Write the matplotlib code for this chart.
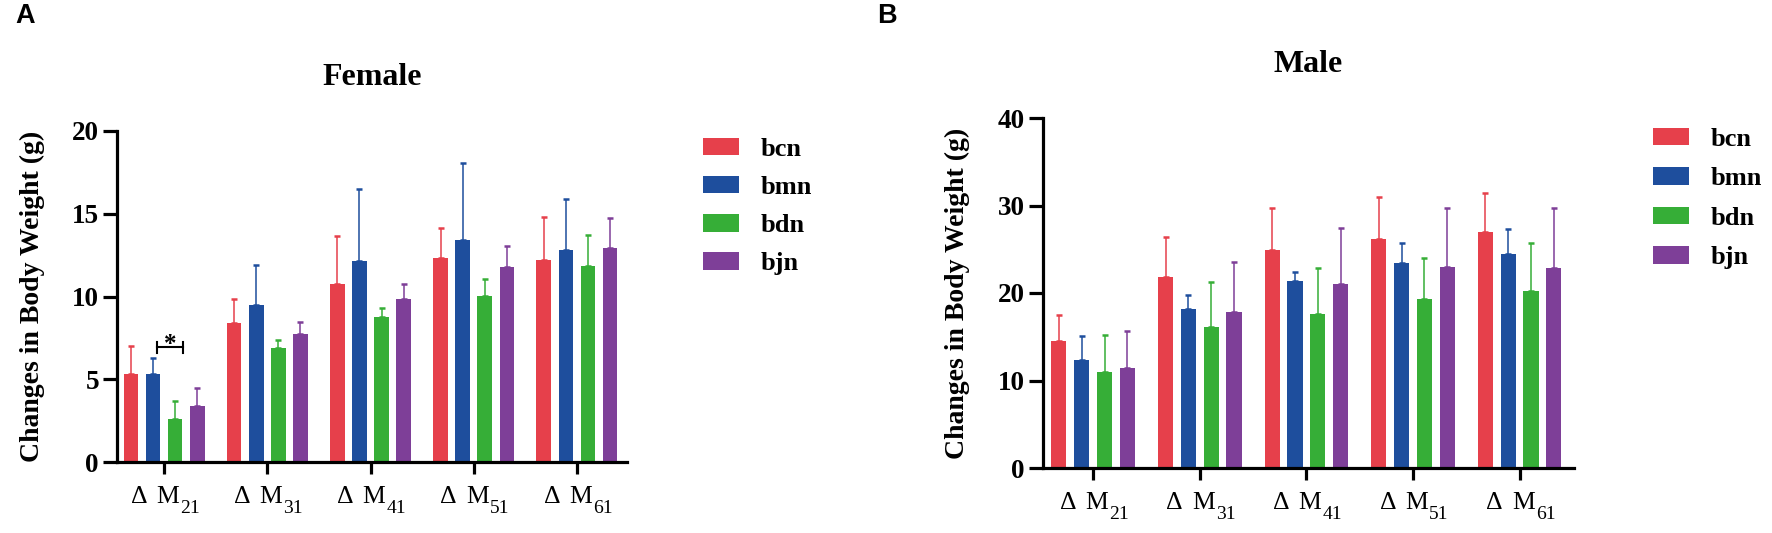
import numpy as np
import matplotlib.pyplot as plt
from matplotlib.transforms import offset_copy

plt.rcParams['font.family'] = ['Liberation Serif', 'DejaVu Serif']

groups = ['21', '31', '41', '51', '61']   # subscripts of the ΔM labels
series = ['bcn', 'bmn', 'bdn', 'bjn']
colors = ['#E6404B', '#1E4E9D', '#36AE37', '#7E3F98']

# Female means and upper SD
f_bcn = [5.29, 8.42, 10.78, 12.32, 12.18]
f_bmn = [5.33, 9.48, 12.14, 13.41, 12.81]
f_bdn = [2.60, 6.89, 8.74, 10.04, 11.82]
f_bjn = [3.39, 7.72, 9.82, 11.78, 12.91]
f_bcn_sd = [1.74, 1.40, 2.89, 1.81, 2.65]
f_bmn_sd = [0.96, 2.40, 4.37, 4.65, 3.06]
f_bdn_sd = [1.09, 0.50, 0.58, 1.04, 1.91]
f_bjn_sd = [1.06, 0.72, 0.96, 1.25, 1.86]

# Male means and upper SD
m_bcn = [14.55, 21.79, 24.91, 26.21, 26.93]
m_bmn = [12.34, 18.13, 21.41, 23.39, 24.46]
m_bdn = [11.01, 16.15, 17.60, 19.32, 20.27]
m_bjn = [11.39, 17.88, 21.03, 22.93, 22.89]
m_bcn_sd = [2.94, 4.65, 4.77, 4.80, 4.46]
m_bmn_sd = [2.75, 1.64, 0.96, 2.29, 2.85]
m_bdn_sd = [4.19, 5.14, 5.30, 4.64, 5.48]
m_bjn_sd = [4.30, 5.72, 6.36, 6.75, 6.79]

W, H = 1772, 533
fig = plt.figure(figsize=(W / 100, H / 100), dpi=100)


def px_axes(x0, x1, ytop, ybot):
    return fig.add_axes([x0 / W, 1 - ybot / H, (x1 - x0) / W, (ybot - ytop) / H])


def draw(ax, means, sds, title, ymax, xlim):
    x = np.arange(len(groups))
    step, width = 0.214, 0.142
    for i, (m, s, c) in enumerate(zip(means, sds, colors)):
        pos = x + (i - 1.5) * step
        ax.bar(pos, m, width, color=c, label=series[i], zorder=2)
        ax.errorbar(pos, m, yerr=[np.zeros(len(m)), s], fmt='none', ecolor=c,
                    elinewidth=1.1, capsize=2.5, capthick=1.8, zorder=1)
    ax.set_xlim(*xlim)
    ax.set_ylim(0, ymax)
    ax.set_yticks(np.linspace(0, ymax, 5))
    ax.set_xticks(x)
    ax.set_xticklabels([])
    # "Δ M" + lowered subscript, drawn as separate texts under each tick
    tr = ax.get_xaxis_transform()
    for xi, sub in zip(x, groups):
        ax.text(xi, 0, 'Δ', fontsize=18.5, ha='right', va='baseline',
                transform=offset_copy(tr, fig=fig, x=-12.0, y=-29.5, units='points'))
        ax.text(xi, 0, 'M', fontsize=18.5, ha='right', va='baseline',
                transform=offset_copy(tr, fig=fig, x=10.8, y=-29.5, units='points'))
        ax.text(xi, 0, sub, fontsize=14, ha='left', va='baseline',
                transform=offset_copy(tr, fig=fig, x=11.6, y=-37, units='points'))
    for sp in ['top', 'right']:
        ax.spines[sp].set_visible(False)
    for sp in ['left', 'bottom']:
        ax.spines[sp].set_linewidth(2.3)
    ax.tick_params(axis='y', length=10, width=2.3, labelsize=19.5, pad=3)
    ax.tick_params(axis='x', length=8.6, width=2.3)
    for lab in ax.get_yticklabels():
        lab.set_fontweight('bold')
    ax.set_ylabel('Changes in Body Weight (g)', fontsize=20, fontweight='bold')
    ax.yaxis.label.set_verticalalignment('center')
    ax.set_title(title, fontsize=23, fontweight='bold', pad=33)


# Female
ax1 = px_axes(117, 627, 131, 462)
draw(ax1, [f_bcn, f_bmn, f_bdn, f_bjn], [f_bcn_sd, f_bmn_sd, f_bdn_sd, f_bjn_sd],
     'Female', 20, (-0.456, 4.485))
ax1.yaxis.set_label_coords(-0.165, 0.5)
# significance bracket
ax1.plot([-0.071, 0.187], [6.97, 6.97], color='black', lw=1.5)
ax1.plot([-0.071, -0.071], [6.57, 7.27], color='black', lw=1.5)
ax1.plot([0.187, 0.187], [6.57, 7.27], color='black', lw=1.5)
ax1.text(0.058, 6.7, '*', ha='center', va='baseline', fontsize=18, fontweight='bold')
fig.legend(*ax1.get_legend_handles_labels(), loc='upper left',
           bbox_to_anchor=(703 / W, 1 - 138 / H), frameon=False, borderpad=0,
           borderaxespad=0, prop={'weight': 'bold', 'size': 19},
           handlelength=1.36, handleheight=0.64, handletextpad=0.83, labelspacing=0.57)

# Male
ax2 = px_axes(1043, 1574, 118, 468)
draw(ax2, [m_bcn, m_bmn, m_bdn, m_bjn], [m_bcn_sd, m_bmn_sd, m_bdn_sd, m_bjn_sd],
     'Male', 40, (-0.47, 4.51))
ax2.yaxis.set_label_coords(-0.162, 0.5)
fig.legend(*ax2.get_legend_handles_labels(), loc='upper left',
           bbox_to_anchor=(1653 / W, 1 - 128 / H), frameon=False, borderpad=0,
           borderaxespad=0, prop={'weight': 'bold', 'size': 19},
           handlelength=1.36, handleheight=0.64, handletextpad=0.83, labelspacing=0.62)

fig.text(15 / W, 1 - 3 / H, 'A', fontsize=19.5, fontweight='bold', va='top',
         family='Liberation Sans')
fig.text(877 / W, 1 - 3 / H, 'B', fontsize=19.5, fontweight='bold', va='top',
         family='Liberation Sans')

fig.savefig('out.png', dpi=100)
